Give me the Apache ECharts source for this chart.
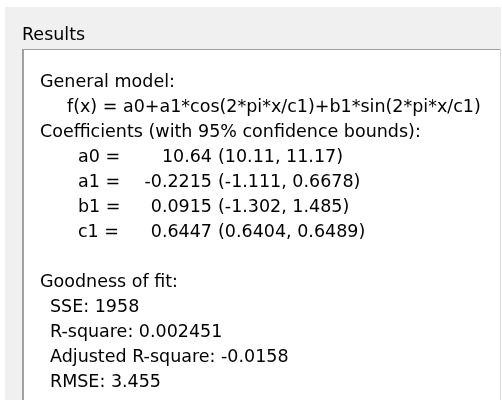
<!DOCTYPE html>
<html><head><meta charset="utf-8">
<script src="https://cdn.jsdelivr.net/npm/echarts@6/dist/echarts.min.js"></script>
<style>html,body{margin:0;padding:0;background:#fff}#c{width:502px;height:400px}</style>
</head><body><div id="c"></div>
<script>
const panelTitle = 'Results';
const modelHeader = 'General model:';
const modelFormula = 'f(x) = a0+a1*cos(2*pi*x/c1)+b1*sin(2*pi*x/c1)';
const coefHeader = 'Coefficients (with 95% confidence bounds):';
const coefNames = ['a0', 'a1', 'b1', 'c1'];
const coefValues = ['10.64', '-0.2215', '0.0915', '0.6447'];
const coefLower = ['10.11', '-1.111', '-1.302', '0.6404'];
const coefUpper = ['11.17', '0.6678', '1.485', '0.6489'];
const gofHeader = 'Goodness of fit:';
const gofLabels = ['SSE', 'R-square', 'Adjusted R-square', 'RMSE'];
const gofValues = ['1958', '0.002451', '-0.0158', '3.455'];

const FONT = '"DejaVu Sans", Verdana, sans-serif';
const FS = 17.5;
const LINE = 25;
const TOP = 82;

function txt(x, y, s, align) {
  return { type: 'text', x: x, y: y, z: 10,
    style: { text: s, fill: '#000', font: FS + 'px ' + FONT, textAlign: align || 'left', textVerticalAlign: 'middle' } };
}
const els = [];
els.push({ type: 'rect', shape: { x: 5, y: 7, width: 496, height: 393 }, style: { fill: '#f0f0f0' } });
els.push({ type: 'rect', shape: { x: 22, y: 49, width: 479, height: 360 }, style: { fill: '#ffffff' } });
els.push({ type: 'line', shape: { x1: 22, y1: 49.5, x2: 501, y2: 49.5 }, style: { stroke: '#a0a0a0', lineWidth: 1 } });
els.push({ type: 'line', shape: { x1: 23, y1: 49, x2: 23, y2: 400 }, style: { stroke: '#a0a0a0', lineWidth: 2 } });
els.push({ type: 'line', shape: { x1: 500.5, y1: 49, x2: 500.5, y2: 400 }, style: { stroke: '#d8d8d8', lineWidth: 1 } });
els.push(txt(22, 35, panelTitle));
els.push(txt(40, TOP, modelHeader));
els.push(txt(67, TOP + LINE, modelFormula));
els.push(txt(40, TOP + 2 * LINE, coefHeader));
coefNames.forEach(function (n, i) {
  const y = TOP + (3 + i) * LINE;
  els.push(txt(78, y, n + ' ='));
  els.push(txt(212, y, coefValues[i], 'right'));
  els.push(txt(218, y, '(' + coefLower[i] + ', ' + coefUpper[i] + ')'));
});
els.push(txt(40, TOP + 8 * LINE, gofHeader));
gofLabels.forEach(function (l, i) {
  els.push(txt(50, TOP + (9 + i) * LINE, l + ': ' + gofValues[i]));
});
const chart = echarts.init(document.getElementById('c'), null, { renderer: 'canvas' });
chart.setOption({ backgroundColor: '#fff', animation: false, graphic: { elements: els } });
</script></body></html>
